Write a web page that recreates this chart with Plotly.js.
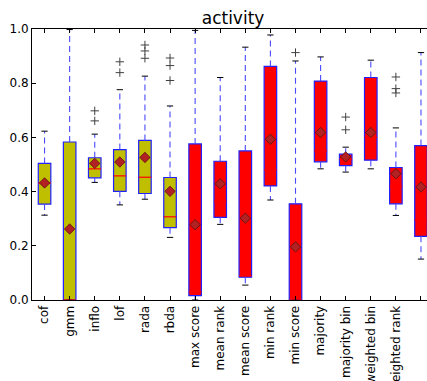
<!DOCTYPE html>
<html>
<head>
<meta charset="utf-8">
<script src="https://cdn.plot.ly/plotly-3.0.1.min.js"></script>
<style>
  html, body { margin: 0; padding: 0; background: #fff; }
  #chart { width: 427px; height: 381px; }
</style>
</head>
<body>
<div id="chart"></div>
<script>
// Detection methods: six single detectors followed by ten ensembles
const categories = ["cof", "gmm", "inflo", "lof", "rada", "rbda",
  "max score", "mean rank", "mean score", "min rank", "min score",
  "majority", "majority bin", "weighted bin", "weighted rank", "weighted score"];

// Box statistics of the "activity" scores per method
const q1 =      [0.354, 0.000, 0.451, 0.401, 0.393, 0.267, 0.016, 0.305, 0.084, 0.421, 0.000, 0.510, 0.496, 0.516, 0.355, 0.235];
const medians = [0.432, 0.000, 0.484, 0.458, 0.453, 0.307, 0.030, 0.365, 0.090, 0.480, 0.000, 0.550, 0.520, 0.600, 0.420, 0.295];
const q3 =      [0.504, 0.583, 0.525, 0.555, 0.589, 0.452, 0.576, 0.512, 0.550, 0.862, 0.355, 0.808, 0.538, 0.821, 0.489, 0.570];
const whiskerLow =  [0.313, 0.000, 0.434, 0.351, 0.372, 0.231, 0.000, 0.279, 0.055, 0.369, 0.000, 0.484, 0.472, 0.484, 0.312, 0.151];
const whiskerHigh = [0.623, 0.998, 0.612, 0.776, 0.826, 0.716, 0.995, 0.821, 0.933, 0.978, 0.882, 0.897, 0.564, 0.885, 0.635, 0.913];
const means =   [0.432, 0.262, 0.504, 0.509, 0.526, 0.401, 0.278, 0.429, 0.302, 0.593, 0.196, 0.618, 0.528, 0.618, 0.466, 0.417];
const outliers = [[], [], [0.661, 0.698], [0.839, 0.879], [0.892, 0.919, 0.941],
  [0.810, 0.865, 0.893], [], [], [], [], [0.913], [], [0.628, 0.675], [],
  [0.764, 0.780, 0.823], []];

const nDetectors = 6;
const pos = categories.map((_, i) => i + 1);
const boxHalf = 0.25, capHalf = 0.125;

const boxColors = pos.map((_, i) => i < nDetectors ? "#bfbf00" : "#ff0000");

// whiskers: dashed segments from the box edges out to the whisker ends
const wx = [], wy = [];
pos.forEach((p, i) => {
  wx.push(p, p, null, p, p, null);
  wy.push(q3[i], whiskerHigh[i], null, q1[i], whiskerLow[i], null);
});
// caps at whisker ends
const cx = [], cy = [];
pos.forEach((p, i) => {
  cx.push(p - capHalf, p + capHalf, null, p - capHalf, p + capHalf, null);
  cy.push(whiskerHigh[i], whiskerHigh[i], null, whiskerLow[i], whiskerLow[i], null);
});
// median lines across each box
const mx = [], my = [];
pos.forEach((p, i) => {
  mx.push(p - boxHalf, p + boxHalf, null);
  my.push(medians[i], medians[i], null);
});
// flier points
const ox = [], oy = [];
pos.forEach((p, i) => outliers[i].forEach(v => { ox.push(p); oy.push(v); }));

const traces = [
  {
    type: "bar", x: pos, base: q1, y: q3.map((v, i) => v - q1[i]),
    width: 2 * boxHalf,
    marker: { color: boxColors, line: { color: "#2020ff", width: 1.2 } },
    hoverinfo: "skip", showlegend: false
  },
  {
    type: "scatter", mode: "lines", x: wx, y: wy,
    line: { color: "#4a4aff", width: 1.1, dash: "6px,4px" },
    hoverinfo: "skip", showlegend: false
  },
  {
    type: "scatter", mode: "lines", x: cx, y: cy,
    line: { color: "#000000", width: 1 },
    hoverinfo: "skip", showlegend: false, cliponaxis: false
  },
  {
    type: "scatter", mode: "lines", x: mx, y: my,
    line: { color: "#ff0000", width: 1.2 },
    hoverinfo: "skip", showlegend: false
  },
  {
    type: "scatter", mode: "markers", x: ox, y: oy,
    marker: { symbol: "cross-thin-open", size: 6, color: "#404040", line: { color: "#404040", width: 1 } },
    hoverinfo: "skip", showlegend: false
  },
  {
    type: "scatter", mode: "markers", x: pos, y: means,
    marker: { symbol: "diamond", size: 8, color: "#b22222", line: { color: "#5a1010", width: 0.8 } },
    hoverinfo: "skip", showlegend: false
  }
];

const layout = {
  width: 427, height: 381,
  margin: { l: 32, r: 0, t: 29, b: 81, pad: 0 },
  paper_bgcolor: "#ffffff", plot_bgcolor: "#ffffff",
  font: { family: "DejaVu Sans", size: 12, color: "#000000" },
  title: {
    text: "activity", font: { family: "DejaVu Sans", size: 17, color: "#000000" },
    xref: "paper", x: 0.509, xanchor: "center",
    yref: "paper", y: 1, yanchor: "bottom", pad: { b: 5 }
  },
  showlegend: false,
  bargap: 0,
  xaxis: {
    range: [0.5, 16.24], tickmode: "array", tickvals: pos, ticktext: categories,
    tickangle: -90, ticks: "inside", ticklen: 4, tickcolor: "#000000",
    showline: true, linecolor: "#000000", linewidth: 1, mirror: "ticks",
    showgrid: false, zeroline: false, fixedrange: true,
    tickfont: { family: "DejaVu Sans", size: 12 }
  },
  yaxis: {
    range: [0, 1], tickvals: [0, 0.2, 0.4, 0.6, 0.8, 1.0],
    ticktext: ["0.0", "0.2", "0.4", "0.6", "0.8", "1.0"],
    ticks: "inside", ticklen: 4, tickcolor: "#000000",
    showline: true, linecolor: "#000000", linewidth: 1,
    showgrid: false, zeroline: false, fixedrange: true,
    tickfont: { family: "DejaVu Sans", size: 12 }
  }
};

Plotly.newPlot("chart", traces, layout, { staticPlot: true, displayModeBar: false });
</script>
</body>
</html>
